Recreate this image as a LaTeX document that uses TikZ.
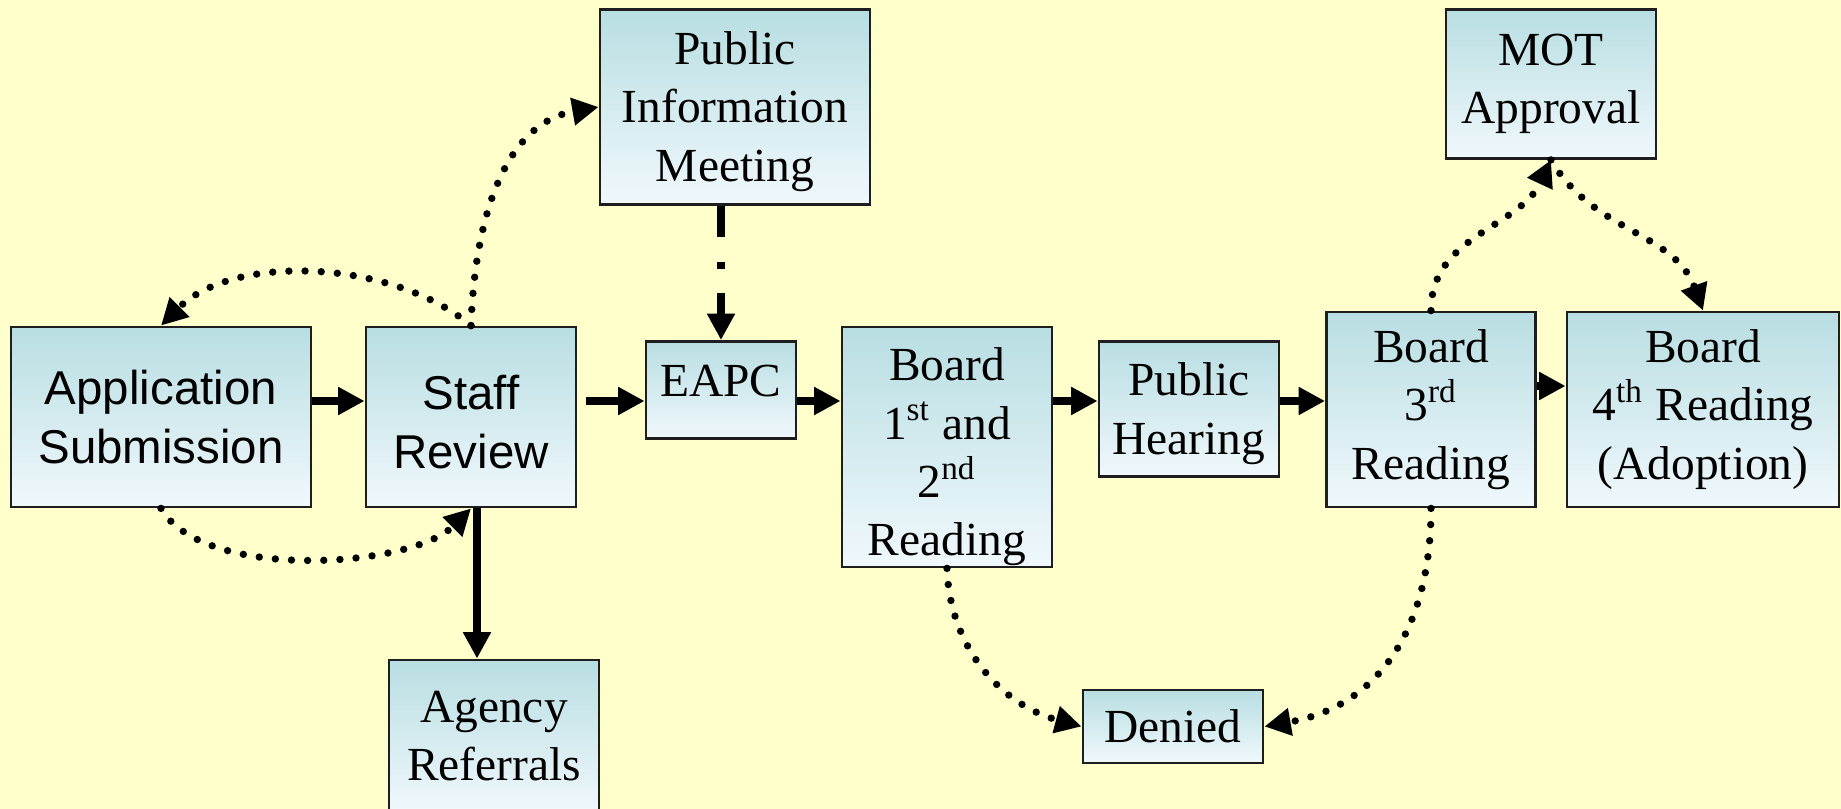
\documentclass[tikz,border=0pt]{standalone}
\usepackage{fontspec}
\setmainfont{Liberation Serif}
\newfontfamily\arialfont{Liberation Sans}
\usetikzlibrary{arrows.meta}
\definecolor{paper}{HTML}{FFFFCC}
\definecolor{boxtop}{HTML}{B8DEE2}
\definecolor{boxbot}{HTML}{F0F8FC}
\definecolor{boxline}{HTML}{1E1E1E}

\begin{document}
\begin{tikzpicture}[box/.style={draw=boxline, line width=0.8pt, top color=boxtop, bottom color=boxbot, align=center, inner sep=0pt, font=\fontsize{13.5}{16.6}\selectfont},
    sansbox/.style={box, font=\arialfont\fontsize{13.5}{16.6}\selectfont},
    flow/.style={line width=2.3pt, -{Triangle[length=7.5pt,width=7.5pt]}},
    dots/.style={line width=2.1pt, line cap=round, dash pattern=on 0pt off 4.6pt, -{Triangle[length=7.5pt,width=7.5pt]}}]
      \useasboundingbox (0,0) rectangle (18.41,-8.09);
      \fill[paper] (0,0) rectangle (18.41,-8.09);

      \node[sansbox, minimum width=3.0cm, minimum height=1.8cm] (app) at (1.61,-4.17) {Application\\Submission};
      \node[sansbox, minimum width=2.1cm, minimum height=1.8cm] (staff) at (4.71,-4.17) {\rule{0pt}{12.6pt}Staff\\Review};
      \node[box, minimum width=2.1cm, minimum height=1.52cm] (agency) at (4.94,-7.36) {Agency\\Referrals};
      \node[box, minimum width=2.7cm, minimum height=1.95cm] (pim) at (7.35,-1.07) {\rule{0pt}{12pt}Public\\Information\\Meeting};
      \node[box, minimum width=1.5cm, minimum height=0.97cm, text depth=5.2pt] (eapc) at (7.21,-3.90) {EAPC};
      \node[box, minimum width=2.1cm, minimum height=2.4cm] (board1) at (9.47,-4.47) {\rule{0pt}{15pt}Board\\1\textsuperscript{st} and\\2\textsuperscript{nd}\\Reading};
      \node[box, minimum width=1.8cm, minimum height=1.35cm] (hearing) at (11.89,-4.09) {\rule{0pt}{12pt}Public\\Hearing};
      \node[box, minimum width=2.09cm, minimum height=1.95cm] (board3) at (14.31,-4.095) {Board\\3\textsuperscript{rd}\\Reading};
      \node[box, minimum width=2.72cm, minimum height=1.95cm] (board4) at (17.03,-4.095) {Board\\4\textsuperscript{th} Reading\\(Adoption)};
      \node[box, minimum width=2.1cm, minimum height=1.49cm] (mot) at (15.51,-0.84) {MOT\\Approval};
      \node[box, minimum width=1.8cm, minimum height=0.73cm] (denied) at (11.73,-7.265) {Denied};

      \coordinate (lvl) at (0,-4.01);
      \coordinate (lvlb) at (0,-3.86);

      \draw[flow] (app.east |- lvl) -- (staff.west |- lvl);
      \draw[flow] ([xshift=0.09cm]staff.east |- lvl) -- (eapc.west |- lvl);
      \draw[flow] (eapc.east |- lvl) -- (board1.west |- lvl);
      \draw[flow] (board1.east |- lvl) -- (hearing.west |- lvl);
      \draw[flow] (hearing.east |- lvl) -- (board3.west |- lvl);
      \draw[flow] (board3.east |- lvlb) -- (board4.west |- lvlb);
      \draw[flow] ([xshift=0.06cm]staff.south) -- ([xshift=0.06cm]staff.south |- agency.north);
      \draw[flow, dash pattern=on 0.31cm off 0.25cm on 0.07cm off 0.24cm] (eapc.north |- pim.south) -- (eapc.north);

      \draw[dots] (staff.north) to[out=140, in=45, looseness=0.85] (app.north);
      \draw[dots] (app.south) to[out=-60, in=-135, looseness=0.7] (staff.south);
      \draw[dots] (staff.north) to[out=88, in=190] (pim.west);
      \draw[dots] (board1.south) to[out=-88, in=165] (denied.west);
      \draw[dots] (board3.south) to[out=-90, in=10, looseness=1.1] (denied.east);
      \draw[dots] (board3.north) to[out=90, in=-115] (mot.south);
      \draw[dots] (mot.south) to[out=-60, in=110] (board4.north);
\end{tikzpicture}
\end{document}
